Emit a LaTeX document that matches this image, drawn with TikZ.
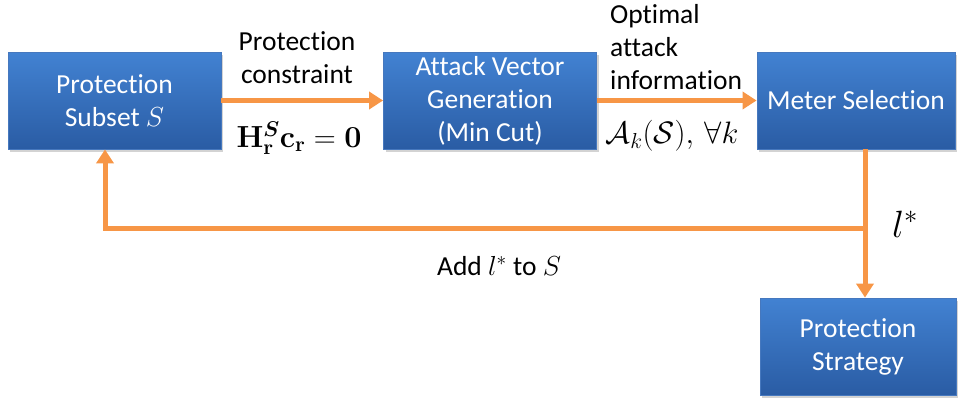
\RequirePackage{fix-cm}
\documentclass[tikz,border=0pt]{standalone}
\usepackage{amsmath,bm}
\usepackage[no-math]{fontspec}
\setmainfont{Carlito}[Ligatures=NoCommon]
\usetikzlibrary{arrows.meta,shadows}
\definecolor{boxtop}{RGB}{66,130,210}
\definecolor{boxbot}{RGB}{42,92,164}
\definecolor{boxedge}{RGB}{70,120,190}
\definecolor{arr}{RGB}{247,150,70}
\begin{document}
\begin{tikzpicture}[x=1pt,y=-1pt,
  blk/.style={draw=boxedge,line width=0.8pt,top color=boxtop,bottom color=boxbot,
    minimum height=97pt,text=white,align=center,font=\fontsize{27.5}{33}\selectfont,
    inner sep=2pt,drop shadow={shadow xshift=2pt,shadow yshift=-3pt,opacity=0.35}},
  con/.style={draw=arr,line width=5pt,-{Triangle[length=14pt,width=17pt]}},
  lbl/.style={font=\fontsize{27.5}{33}\selectfont,align=center,inner sep=0pt}]
\useasboundingbox (0,0) rectangle (969,402);
\node[blk,minimum width=213pt] (s) at (114.5,100.5) {Protection\\Subset $S$};
\node[blk,minimum width=213pt] (g) at (490,100.5) {Attack Vector\\Generation\\(Min Cut)};
\node[blk,minimum width=198pt] (m) at (856,100.5) {Meter Selection};
\node[blk,minimum width=196pt] (p) at (858,346.5) {Protection\\Strategy};
\draw[con] (s) -- (g);
\draw[con] (g) -- (m);
\coordinate (j) at (865,228);
\coordinate (u) at (105,228);
\draw[con] (m.south -| j) -- (p.north -| j);
\draw[con,line cap=butt] (j) -- (u) -- (s.south -| u);
\node[lbl] (t1) at (297,58) {Protection\\constraint};
\node[lbl,font=\fontsize{30.5}{30.5}\selectfont] (t2) at (299,138) {$\mathbf{H}_{\mathbf{r}}^{\bm{S}}\mathbf{c}_{\mathbf{r}}=\mathbf{0}$};
\node[lbl,align=left,anchor=west] (t3) at (610,47) {Optimal\\attack\\information};
\node[lbl,font=\fontsize{31}{31}\selectfont] (t4) at (672,136) {$\mathcal{A}_k(\mathcal{S}),\,\forall k$};
\node[lbl,font=\fontsize{38}{38}\selectfont] (t5) at (905,224) {$l^{*}$};
\node[lbl] (t6) at (499,266) {Add $l^{*}$ to $S$};
\end{tikzpicture}
\end{document}
